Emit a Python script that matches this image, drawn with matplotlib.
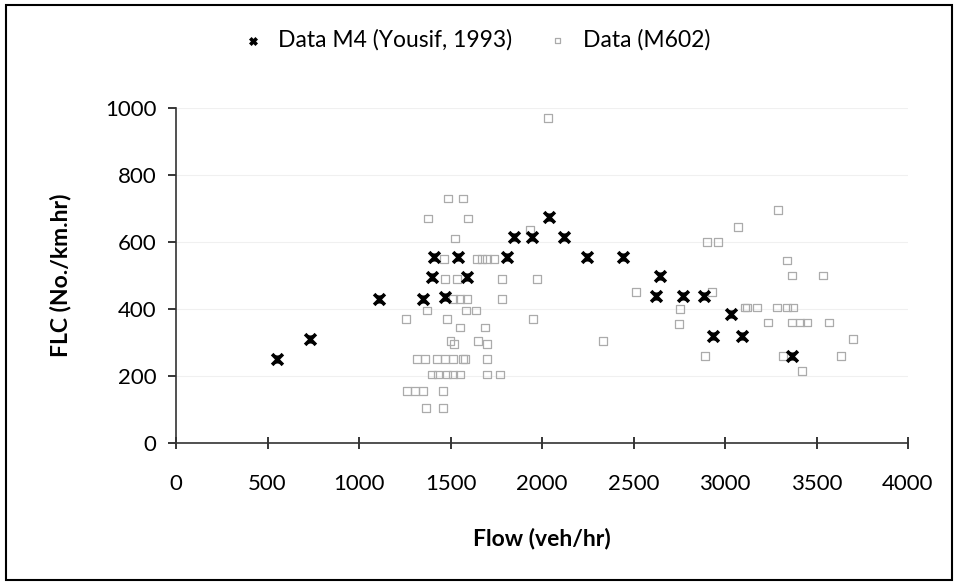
import matplotlib
matplotlib.use('Agg')
import matplotlib.pyplot as plt
from matplotlib.patches import Rectangle
from matplotlib.path import Path

plt.rcParams['font.family'] = ['Lato', 'DejaVu Sans']

# Data M4 (Yousif, 1993)
m4_flow = [550, 730, 1110, 1350, 1400, 1410, 1470, 1540, 1590, 1810, 1845, 1945,
           2040, 2120, 2245, 2445, 2645, 2625, 2770, 2885, 2935, 3035, 3095, 3365]
m4_flc = [250, 310, 430, 430, 495, 555, 435, 555, 495, 555, 615, 615,
          675, 615, 555, 555, 500, 440, 440, 440, 320, 385, 320, 260]

# Data (M602)
m602_flow = [2033, 1486, 1568, 1377, 1596, 1525, 1464, 1470, 1536, 1514, 1552,
             1590, 1372, 1481, 1257, 1585, 1552, 1500, 1520,
             1317, 1361, 1426, 1470, 1514, 1568,
             1399, 1432, 1481, 1514, 1552, 1262, 1306, 1350, 1459, 1366, 1459,
             1645, 1672, 1700, 1738, 1934, 1781, 1973, 1781, 1639, 1951, 1689,
             1650, 1700, 1579, 1700, 1700, 1770, 2333, 2514, 2754, 2749, 2891,
             2929, 2902, 2962, 3071, 3109, 3290, 3339, 3366, 3535, 3120, 3175,
             3284, 3339, 3372, 3235, 3366, 3410, 3448, 3568, 3700, 3317, 3634, 3421]
m602_flc = [970, 730, 730, 670, 670, 610, 550, 490, 490, 430, 430,
            430, 395, 370, 370, 395, 345, 305, 295,
            250, 250, 250, 250, 250, 250,
            205, 205, 205, 205, 205, 155, 155, 155, 155, 105, 105,
            550, 550, 550, 550, 635, 490, 490, 430, 395, 370, 345,
            305, 295, 250, 250, 205, 205, 305, 450, 400, 355, 260,
            450, 600, 600, 645, 405, 695, 545, 500, 500, 405, 405,
            405, 405, 405, 360, 360, 360, 360, 360, 310, 260, 260, 215]

# excel-like star: an x with a short vertical bar
star = Path([(-1, -1), (1, 1), (-1, 1), (1, -1), (0, -0.75), (0, 0.75)],
            [Path.MOVETO, Path.LINETO, Path.MOVETO, Path.LINETO, Path.MOVETO, Path.LINETO])

fig = plt.figure(figsize=(9.58, 5.85), dpi=100)
ax = fig.add_axes([176 / 958, 1 - 443 / 585, (908 - 176) / 958, (443 - 108) / 585])

ax.scatter(m602_flow, m602_flc, marker='s', s=30, facecolors='none',
           edgecolors='#ababab', linewidths=0.9, label='Data (M602)', zorder=2)
ax.scatter(m4_flow, m4_flc, marker=star, s=60, color='black',
           linewidths=2.6, label='Data M4 (Yousif, 1993)', zorder=3)

ax.set_xlim(0, 4000)
ax.set_ylim(0, 1000)
ax.set_xticks(range(0, 4001, 500))
ax.set_yticks(range(0, 1001, 200))
ax.grid(axis='y', color='#f0f0f0', linewidth=0.8)
ax.set_axisbelow(True)
for s in ['top', 'right']:
    ax.spines[s].set_visible(False)
for s in ['left', 'bottom']:
    ax.spines[s].set_color('#333333')
    ax.spines[s].set_linewidth(1.2)
ax.tick_params(axis='x', direction='inout', length=9, width=1.1, pad=18, labelsize=16)
ax.tick_params(axis='y', direction='out', length=6, width=1.1, pad=8, labelsize=16)

ax.set_xlabel('Flow (veh/hr)', fontsize=16.5, fontweight='bold', labelpad=24)
ax.set_ylabel('FLC (No./km.hr)', fontsize=16.5, fontweight='bold', labelpad=24)

handles, labels = ax.get_legend_handles_labels()
fig.legend(handles[::-1], labels[::-1], loc='center', bbox_to_anchor=(470 / 958, 1 - 40 / 585),
           ncol=2, frameon=False, fontsize=16.5, handletextpad=0.1, columnspacing=1.0,
           markerscale=0.6)

fig.patches.append(Rectangle((6 / 958, 5 / 585), 946 / 958, 575 / 585, transform=fig.transFigure,
                             fill=False, edgecolor='black', linewidth=1.5))

fig.savefig('out.png', dpi=100)
